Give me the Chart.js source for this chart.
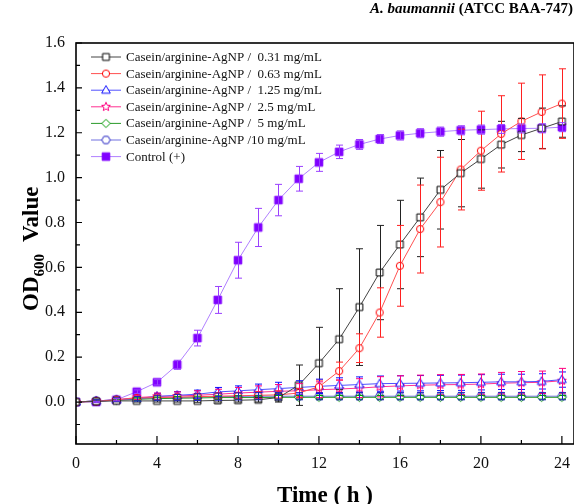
<!DOCTYPE html>
<html>
<head>
<meta charset="utf-8">
<script src="https://cdn.jsdelivr.net/npm/chart.js@4.4.0/dist/chart.umd.min.js"></script>
<style>
  html, body { margin: 0; padding: 0; background: #fff; overflow: hidden; }
  #wrap { width: 580px; height: 504px; }
</style>
</head>
<body>
<div id="wrap"><canvas id="chart" width="580" height="504"></canvas></div>
<script>
// values
const hours = [0, 1, 2, 3, 4, 5, 6, 7, 8, 9, 10, 11, 12, 13, 14, 15, 16, 17, 18, 19, 20, 21, 22, 23, 24]

const c031 = [0.00, 0.003, 0.005, 0.005, 0.005, 0.005, 0.005, 0.007, 0.008, 0.01, 0.02, 0.075, 0.173, 0.28, 0.423, 0.577, 0.702, 0.823, 0.946, 1.02, 1.083, 1.147, 1.19, 1.22, 1.25]
const c031Err = [0, 0.003, 0.004, 0.005, 0.005, 0.005, 0.006, 0.007, 0.008, 0.01, 0.02, 0.09, 0.16, 0.225, 0.26, 0.21, 0.197, 0.175, 0.175, 0.15, 0.13, 0.104, 0.074, 0.09, 0.07]

const c063 = [0.00, 0.003, 0.01, 0.018, 0.02, 0.022, 0.024, 0.026, 0.028, 0.03, 0.032, 0.04, 0.068, 0.138, 0.24, 0.399, 0.607, 0.771, 0.891, 1.036, 1.12, 1.195, 1.251, 1.293, 1.33]
const c063Err = [0, 0.003, 0.005, 0.008, 0.01, 0.012, 0.013, 0.015, 0.015, 0.016, 0.018, 0.02, 0.03, 0.04, 0.064, 0.11, 0.18, 0.196, 0.2, 0.18, 0.176, 0.17, 0.17, 0.165, 0.155]

const c125 = [0.00, 0.005, 0.01, 0.015, 0.025, 0.03, 0.035, 0.045, 0.05, 0.055, 0.06, 0.065, 0.07, 0.074, 0.078, 0.082, 0.083, 0.084, 0.085, 0.086, 0.088, 0.09, 0.09, 0.092, 0.1]
const c125Err = [0, 0.004, 0.006, 0.01, 0.014, 0.016, 0.018, 0.02, 0.022, 0.025, 0.028, 0.03, 0.032, 0.034, 0.034, 0.034, 0.034, 0.034, 0.034, 0.034, 0.034, 0.034, 0.034, 0.034, 0.034]

const c25 = [0.00, 0.005, 0.01, 0.02, 0.025, 0.027, 0.03, 0.035, 0.04, 0.044, 0.048, 0.05, 0.055, 0.058, 0.062, 0.068, 0.072, 0.075, 0.077, 0.078, 0.08, 0.084, 0.086, 0.088, 0.095]
const c25Err = [0, 0.004, 0.006, 0.01, 0.015, 0.018, 0.02, 0.022, 0.025, 0.028, 0.03, 0.032, 0.035, 0.04, 0.042, 0.045, 0.045, 0.045, 0.045, 0.045, 0.045, 0.048, 0.05, 0.05, 0.055]

const c5 = [0.00, 0.005, 0.008, 0.012, 0.015, 0.017, 0.018, 0.02, 0.02, 0.02, 0.021, 0.021, 0.021, 0.021, 0.021, 0.021, 0.021, 0.021, 0.021, 0.021, 0.021, 0.021, 0.021, 0.021, 0.021]
const c5Err = [0, 0.004, 0.005, 0.006, 0.007, 0.008, 0.008, 0.008, 0.008, 0.008, 0.008, 0.008, 0.008, 0.008, 0.008, 0.008, 0.008, 0.008, 0.008, 0.008, 0.008, 0.008, 0.008, 0.008, 0.008]

const c10 = [0.00, 0.005, 0.01, 0.015, 0.018, 0.02, 0.022, 0.024, 0.025, 0.026, 0.026, 0.026, 0.026, 0.026, 0.026, 0.026, 0.026, 0.026, 0.026, 0.026, 0.026, 0.026, 0.026, 0.026, 0.026]
const c10Err = [0, 0.005, 0.008, 0.01, 0.012, 0.014, 0.015, 0.016, 0.016, 0.016, 0.016, 0.016, 0.016, 0.016, 0.016, 0.016, 0.016, 0.016, 0.016, 0.016, 0.016, 0.016, 0.016, 0.016, 0.016]

const control = [0.00, 0.00, 0.01, 0.046, 0.088, 0.166, 0.285, 0.455, 0.632, 0.778, 0.90, 0.995, 1.068, 1.115, 1.148, 1.172, 1.188, 1.198, 1.205, 1.211, 1.214, 1.217, 1.219, 1.22, 1.225]
const controlErr = [0, 0.003, 0.005, 0.008, 0.012, 0.02, 0.035, 0.06, 0.08, 0.085, 0.07, 0.055, 0.04, 0.03, 0.022, 0.02, 0.02, 0.02, 0.02, 0.02, 0.02, 0.02, 0.02, 0.02, 0.02]

const seriesLabels = [
  'Casein/arginine-AgNP /  0.31 mg/mL',
  'Casein/arginine-AgNP /  0.63 mg/mL',
  'Casein/arginine-AgNP /  1.25 mg/mL',
  'Casein/arginine-AgNP /  2.5 mg/mL',
  'Casein/arginine-AgNP /  5 mg/mL',
  'Casein/arginine-AgNP /10 mg/mL',
  'Control (+)'
]

const xMajor = [0, 4, 8, 12, 16, 20, 24]
const xMinor = [2, 6, 10, 14, 18, 22]
const yMajor = [0, 0.2, 0.4, 0.6, 0.8, 1.0, 1.2, 1.4, 1.6]
const yMinor = [-0.1, 0.1, 0.3, 0.5, 0.7, 0.9, 1.1, 1.3, 1.5]

const SERIF = "'Liberation Serif', 'Times New Roman', serif"

function markerPath(g, kind, cx, cy, r) {
  g.beginPath()
  if (kind === 'square') {
    g.rect(cx - r, cy - r, 2 * r, 2 * r)
  } else if (kind === 'circle') {
    g.arc(cx, cy, r, 0, Math.PI * 2)
  } else if (kind === 'triangle') {
    g.moveTo(cx, cy - r)
    g.lineTo(cx + r * 0.95, cy + r * 0.65)
    g.lineTo(cx - r * 0.95, cy + r * 0.65)
    g.closePath()
  } else if (kind === 'diamond') {
    g.moveTo(cx, cy - r)
    g.lineTo(cx + r, cy)
    g.lineTo(cx, cy + r)
    g.lineTo(cx - r, cy)
    g.closePath()
  } else if (kind === 'star') {
    for (let i = 0; i < 10; i++) {
      const a = -Math.PI / 2 + i * Math.PI / 5
      const rr = i % 2 === 0 ? r : r * 0.45
      const px = cx + rr * Math.cos(a)
      const py = cy + rr * Math.sin(a)
      if (i === 0) g.moveTo(px, py)
      else g.lineTo(px, py)
    }
    g.closePath()
  } else if (kind === 'hexagon') {
    for (let i = 0; i < 6; i++) {
      const a = i * Math.PI / 3
      const px = cx + r * Math.cos(a)
      const py = cy + r * Math.sin(a)
      if (i === 0) g.moveTo(px, py)
      else g.lineTo(px, py)
    }
    g.closePath()
  }
}

function makeMarker(kind, color, r, filled) {
  const c = document.createElement('canvas')
  const s = Math.ceil(r * 2 + 4)
  c.width = s
  c.height = s
  const g = c.getContext('2d')
  markerPath(g, kind, s / 2, s / 2, r)
  g.fillStyle = filled ? color : '#fff'
  g.fill()
  g.strokeStyle = color
  g.lineWidth = 1
  g.stroke()
  return c
}

const styles = [
  { line: '#444', color: '#000', err: '#222', marker: makeMarker('square', '#000', 3.4, false) },
  { line: '#ff5050', color: '#ff0000', err: '#ff2020', marker: makeMarker('circle', '#ff0000', 3.6, false) },
  { line: '#5050ff', color: '#1010ff', err: '#1010ff', marker: makeMarker('triangle', '#1010ff', 4.6, false) },
  { line: '#ff3090', color: '#ff0080', err: '#ff0080', marker: makeMarker('star', '#ff0080', 4.6, false) },
  { line: '#2a9a2a', color: '#009900', err: '#009900', marker: makeMarker('diamond', '#009900', 4.2, false) },
  { line: '#7070e0', color: '#2020c0', err: '#2020c0', marker: makeMarker('hexagon', '#2020c0', 4.2, false) },
  { line: '#b080ff', color: '#8000ff', err: '#9a40ff', marker: makeMarker('square', '#8000ff', 3.8, true) }
]

const values = [c031, c063, c125, c25, c5, c10, control]
const errors = [c031Err, c063Err, c125Err, c25Err, c5Err, c10Err, controlErr]

const datasets = values.map((vals, i) => ({
  label: seriesLabels[i],
  data: hours.map((h, j) => ({ x: h, y: vals[j] })),
  errors: errors[i],
  errColor: styles[i].err,
  borderColor: styles[i].line,
  backgroundColor: styles[i].color,
  borderWidth: 1,
  pointStyle: styles[i].marker,
  pointRadius: 4,
  tension: 0
}))

const errorBars = {
  id: 'errorBars',
  afterDatasetsDraw(chart) {
    const { ctx, scales: { x, y } } = chart
    chart.data.datasets.forEach(ds => {
      ctx.save()
      ctx.strokeStyle = ds.errColor
      ctx.lineWidth = 1
      ds.data.forEach((p, j) => {
        const e = ds.errors[j]
        if (!e) return
        const px = Math.round(x.getPixelForValue(p.x)) + 0.5
        const top = y.getPixelForValue(p.y + e)
        const bot = y.getPixelForValue(p.y - e)
        ctx.beginPath()
        ctx.moveTo(px, top)
        ctx.lineTo(px, bot)
        ctx.moveTo(px - 3.5, top)
        ctx.lineTo(px + 3.5, top)
        ctx.moveTo(px - 3.5, bot)
        ctx.lineTo(px + 3.5, bot)
        ctx.stroke()
      })
      ctx.restore()
    })
  }
}

const frame = {
  id: 'frame',
  afterDraw(chart) {
    const { ctx, chartArea: a, scales: { x, y } } = chart
    ctx.save()
    ctx.strokeStyle = '#000'
    ctx.lineWidth = 1.6
    ctx.strokeRect(a.left, a.top, a.right - a.left, a.bottom - a.top)
    ctx.lineWidth = 1.2
    ctx.beginPath()
    xMajor.forEach(v => {
      const px = x.getPixelForValue(v)
      ctx.moveTo(px, a.bottom)
      ctx.lineTo(px, a.bottom - 8)
    })
    xMinor.forEach(v => {
      const px = x.getPixelForValue(v)
      ctx.moveTo(px, a.bottom)
      ctx.lineTo(px, a.bottom - 4)
    })
    yMajor.forEach(v => {
      const py = y.getPixelForValue(v)
      ctx.moveTo(a.left, py)
      ctx.lineTo(a.left + 6, py)
    })
    yMinor.forEach(v => {
      const py = y.getPixelForValue(v)
      ctx.moveTo(a.left, py)
      ctx.lineTo(a.left + 4, py)
    })
    ctx.stroke()

    // legend
    const rowTop = 57
    const rowStep = 16.6
    ctx.font = `13px ${SERIF}`
    ctx.textBaseline = 'middle'
    chart.data.datasets.forEach((ds, i) => {
      const ry = rowTop + i * rowStep
      ctx.strokeStyle = ds.borderColor
      ctx.lineWidth = 1
      ctx.beginPath()
      ctx.moveTo(91, ry)
      ctx.lineTo(121, ry)
      ctx.stroke()
      const m = ds.pointStyle
      ctx.drawImage(m, 106 - m.width / 2, ry - m.height / 2)
      ctx.fillStyle = '#111'
      ctx.fillText(ds.label, 126, ry + 0.5)
    })

    // title, top right
    ctx.textBaseline = 'alphabetic'
    ctx.fillStyle = '#000'
    const rest = ' (ATCC BAA-747)'
    ctx.font = `bold 15px ${SERIF}`
    const restW = ctx.measureText(rest).width
    ctx.textAlign = 'right'
    ctx.fillText(rest, 573, 13)
    ctx.font = `italic bold 15px ${SERIF}`
    ctx.fillText('A. baumannii', 573 - restW, 13)

    // x title
    ctx.textAlign = 'center'
    ctx.font = `bold 23px ${SERIF}`
    ctx.fillText('Time ( h )', 325, 502)

    // y title with subscript, reads bottom to top
    ctx.save()
    ctx.translate(38, 0)
    ctx.rotate(-Math.PI / 2)
    ctx.textAlign = 'left'
    const big = `bold 23px ${SERIF}`
    const small = `bold 15px ${SERIF}`
    ctx.font = big
    const wOD = ctx.measureText('OD').width
    ctx.fillText('OD', -311, 0)
    ctx.font = small
    const wSub = ctx.measureText('600').width
    ctx.fillText('600', -311 + wOD, 6)
    ctx.font = big
    ctx.fillText('Value', -311 + wOD + wSub + 12, 0)
    ctx.restore()

    ctx.restore()
  }
}

new Chart(document.getElementById('chart'), {
  type: 'line',
  data: { datasets },
  options: {
    responsive: false,
    devicePixelRatio: 1,
    animation: false,
    layout: { padding: { top: 43, right: 2, left: 0, bottom: 0 } },
    plugins: {
      legend: { display: false },
      tooltip: { enabled: false }
    },
    scales: {
      x: {
        type: 'linear',
        min: 0,
        max: 24.6,
        afterBuildTicks: scale => { scale.ticks = xMajor.map(v => ({ value: v })) },
        afterFit: scale => { scale.height = 60 },
        grid: { display: false, drawTicks: false },
        border: { display: false },
        ticks: {
          padding: 10,
          color: '#111',
          font: { family: SERIF, size: 16 },
          maxRotation: 0
        }
      },
      y: {
        type: 'linear',
        min: -0.187,
        max: 1.6,
        afterBuildTicks: scale => { scale.ticks = yMajor.map(v => ({ value: v })) },
        afterFit: scale => { scale.width = 76 },
        grid: { display: false, drawTicks: false },
        border: { display: false },
        ticks: {
          padding: 11,
          color: '#111',
          font: { family: SERIF, size: 16 },
          callback: v => Number(v).toFixed(1)
        }
      }
    }
  },
  plugins: [errorBars, frame]
})
</script>
</body>
</html>
